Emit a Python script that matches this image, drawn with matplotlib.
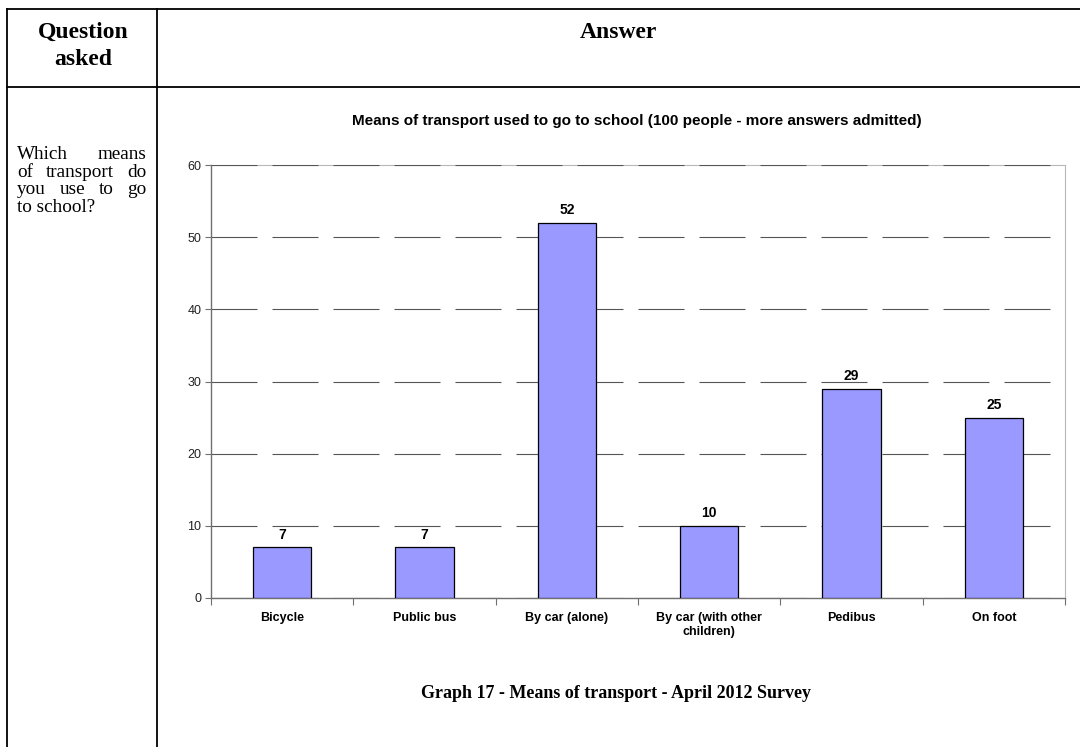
import numpy as np
import matplotlib
matplotlib.use("Agg")
import matplotlib.pyplot as plt
from matplotlib.lines import Line2D

# data
categories = ["Bicycle", "Public bus", "By car (alone)", "By car (with other\nchildren)", "Pedibus", "On foot"]
answers = [7, 7, 52, 10, 29, 25]
y_ticks = [0, 10, 20, 30, 40, 50, 60]

question_lines = ["Which means", "of transport do", "you use to go", "to school?"]

W, H = 1080, 747
SERIF = "Liberation Serif"
SANS = "Liberation Sans"


def fx(px):
    return px / W


def fy(py):
    return 1 - py / H


fig = plt.figure(figsize=(W / 100, H / 100), dpi=100)
fig.patch.set_facecolor("white")

# table frame
lw_tab = 1.3
fig.add_artist(Line2D([fx(7), 1], [fy(9), fy(9)], color="black", lw=lw_tab))
fig.add_artist(Line2D([fx(7), 1], [fy(87), fy(87)], color="black", lw=lw_tab))
fig.add_artist(Line2D([fx(7), fx(7)], [fy(9), 0], color="black", lw=lw_tab))
fig.add_artist(Line2D([fx(157), fx(157)], [fy(9), 0], color="black", lw=lw_tab))

fig.text(fx(83), fy(46), "Question\nasked", family=SERIF, weight="bold", size=17,
         ha="center", va="center", linespacing=1.4)
fig.text(fx(618), fy(32), "Answer", family=SERIF, weight="bold", size=17,
         ha="center", va="center")

# justified question text in the left cell
renderer = fig.canvas.get_renderer()
left, right = 17, 146
base = 159
for k, line in enumerate(question_lines):
    y = fy(base + k * 17.7)
    words = line.split()
    if k == len(question_lines) - 1:
        fig.text(fx(left), y, line, family=SERIF, size=13.8, ha="left", va="baseline")
        continue
    texts = [fig.text(0, y, w, family=SERIF, size=13.8, ha="left", va="baseline") for w in words]
    widths = [t.get_window_extent(renderer).width for t in texts]
    gap = (right - left - sum(widths)) / (len(words) - 1)
    xpos = left
    for t, wd in zip(texts, widths):
        t.set_x(fx(xpos))
        xpos += wd + gap

# chart
fig.text(fx(637), fy(121), "Means of transport used to go to school (100 people - more answers admitted)",
         family=SANS, weight="bold", size=11, ha="center", va="center")

ax = fig.add_axes([fx(211), fy(598), (1065 - 211) / W, (598 - 165) / H])
x = np.arange(len(categories))
ax.bar(x, answers, width=0.41, color="#9999FF", edgecolor="black", linewidth=0.9, zorder=3)

for i, v in enumerate(answers):
    ax.annotate(str(v), (i, v), xytext=(0, 4), textcoords="offset points", ha="center",
                va="bottom", family=SANS, weight="bold", size=10, zorder=4)

ax.set_xlim(-0.5, len(categories) - 0.5)
ax.set_ylim(0, 60)
ax.set_yticks(y_ticks)
ax.set_yticklabels([str(t) for t in y_ticks], family=SANS, size=9, color="#222222")
ax.tick_params(axis="y", length=4, width=0.8, color="#707070", pad=3)

ax.set_xticks(x)
ax.set_xticklabels(categories, family=SANS, weight="bold", size=9)
ax.tick_params(axis="x", which="major", length=0, pad=10)
ax.set_xticks(np.arange(len(categories) + 1) - 0.5, minor=True)
ax.tick_params(axis="x", which="minor", length=5, width=0.8, color="#707070")

ax.yaxis.grid(True, color="#555555", linewidth=0.8, linestyle=(0, (41.4, 13.5)), zorder=1)
ax.set_axisbelow(True)

for s in ["left", "bottom"]:
    ax.spines[s].set_color("#707070")
    ax.spines[s].set_linewidth(1.0)
for s in ["top", "right"]:
    ax.spines[s].set_color("#b8b8b8")
    ax.spines[s].set_linewidth(0.8)
ax.spines["top"].set_zorder(0.2)

fig.text(fx(616), fy(693), "Graph 17 - Means of transport - April 2012 Survey",
         family=SERIF, weight="bold", size=13, ha="center", va="center")

fig.savefig("out.png", dpi=100)
